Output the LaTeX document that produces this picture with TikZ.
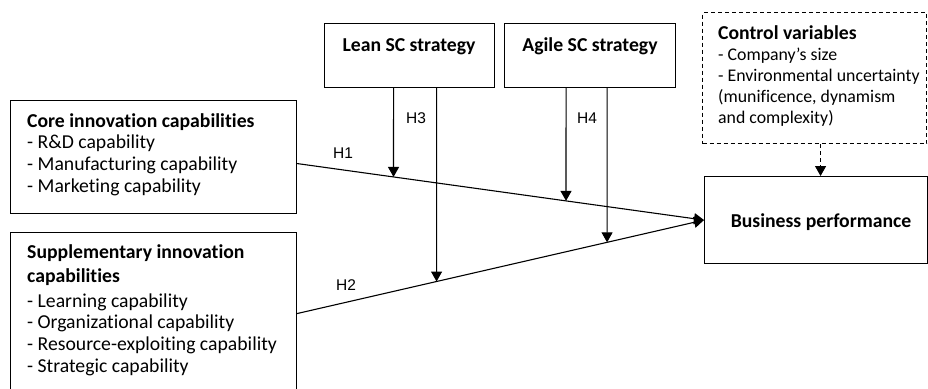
\documentclass[tikz,border=0pt]{standalone}
\usepackage{fontspec}
\setmainfont[Ligatures=NoCommon]{Carlito}
\newfontfamily\hfont{Liberation Sans}
\usetikzlibrary{arrows.meta,calc}
\begin{document}
\begin{tikzpicture}[x=1pt,y=-1pt,
  box/.style={draw,line width=1.1pt,inner sep=0pt,anchor=north west},
  txt/.style={inner sep=0pt,anchor=base west,align=left,font=\fontsize{19.7}{21.6}\selectfont},
  hlab/.style={inner sep=0pt,font=\hfont\fontsize{15.5}{18}\selectfont},
  conn/.style={line width=1.1pt,-{Triangle[length=10pt,width=11pt]}}
]
\useasboundingbox (0,0) rectangle (928,388);
\clip (0,0) rectangle (928,388);
% boxes
\node[box,minimum width=286pt,minimum height=113pt] (core) at (10,100) {};
\node[box,minimum width=286pt,minimum height=162pt] (supp) at (10,232) {};
\node[box,minimum width=170pt,minimum height=64pt] (lean) at (324,23) {};
\node[box,minimum width=171pt,minimum height=64pt] (agile) at (504,23) {};
\node[box,dash pattern=on 4pt off 3pt,minimum width=224pt,minimum height=131pt] (ctrl) at (702,12) {};
\node[box,minimum width=223pt,minimum height=87pt] (bp) at (704,176) {};
% texts (anchored at baseline of last line)
\node[txt] (coret) at (27,192) {\textbf{Core innovation capabilities}\\- R\&D capability\\- Manufacturing capability\\- Marketing capability};
\node[txt] (suppt) at (27,372) {\textbf{Supplementary innovation}\\[2.5pt]\textbf{capabilities}\\[3.5pt]- Learning capability\\- Organizational capability\\- Resource-exploiting capability\\- Strategic capability};
\node[txt] (ctrlh) at (718,39) {\textbf{Control variables}};
\node[txt,font=\fontsize{17.8}{21}\selectfont] (ctrlt) at (718,123) {- Company’s size\\- Environmental uncertainty\\(munificence, dynamism\\and complexity)};
\node[txt,anchor=base] (leant) at (409,51) {\textbf{Lean SC strategy}};
\node[txt,anchor=base] (agilet) at (590,51) {\textbf{Agile SC strategy}};
\node[txt,anchor=base] (bpt) at (821,227) {\textbf{Business performance}};
% main paths
\coordinate (h1s) at ([yshift=-6.5pt]core.east);
\draw[conn] (h1s) -- (bp.west);
\draw[conn] (supp.east) -- (bp.west);
% moderators
\coordinate (l1) at ([xshift=-16pt]lean.south);
\coordinate (l1b) at ([xshift=-16pt,yshift=-300pt]lean.south);
\coordinate (l2) at ([xshift=27pt]lean.south);
\coordinate (l2b) at ([xshift=27pt,yshift=-300pt]lean.south);
\coordinate (a1) at ([xshift=-24pt]agile.south);
\coordinate (a1b) at ([xshift=-24pt,yshift=-300pt]agile.south);
\coordinate (a2) at ([xshift=17pt]agile.south);
\coordinate (a2b) at ([xshift=17pt,yshift=-300pt]agile.south);
\draw[conn] (l1) -- (intersection of l1--l1b and h1s--bp.west);
\draw[conn] (l2) -- (intersection of l2--l2b and supp.east--bp.west);
\draw[conn] (a1) -- (intersection of a1--a1b and h1s--bp.west);
\draw[conn] (a2) -- (intersection of a2--a2b and supp.east--bp.west);
% control
\draw[conn,dash pattern=on 4pt off 3pt] ([xshift=6pt]ctrl.south) -- ([xshift=6pt]ctrl.south |- bp.north);
% labels
\node[hlab] (H1) at (343,153) {H1};
\node[hlab] (H2) at (346,285) {H2};
\node[hlab] (H3) at (416,118) {H3};
\node[hlab] (H4) at (587,118) {H4};
\end{tikzpicture}
\end{document}
